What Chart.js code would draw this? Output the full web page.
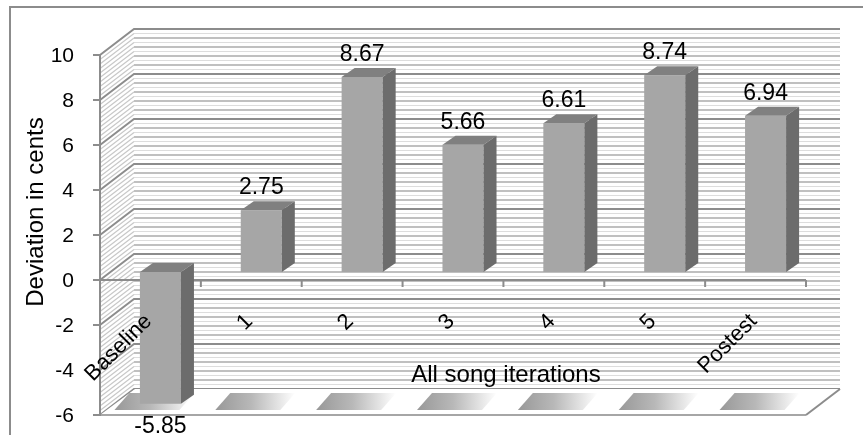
<!DOCTYPE html>
<html>
<head>
<meta charset="utf-8">
<script src="https://cdn.jsdelivr.net/npm/chart.js@4.4.1/dist/chart.umd.min.js"></script>
<style>
  html, body { margin: 0; padding: 0; background: #ffffff; }
</style>
</head>
<body>
<canvas id="chart" width="863" height="435"></canvas>
<script>
// data
const categories = ['Baseline', '1', '2', '3', '4', '5', 'Postest'];
const deviation = [-5.85, 2.75, 8.67, 5.66, 6.61, 8.74, 6.94];
const yTicks = [-6, -4, -2, 0, 2, 4, 6, 8, 10];
const yTitle = 'Deviation in cents';
const xTitle = 'All song iterations';

const FONT = "'Liberation Sans', Arial, sans-serif";

// fake 3D box: offsets relative to the plane the bars sit in
const FRONT = { dx: -10, dy: 8 };
const BACK = { dx: 24, dy: -18 };
const BAR_DEPTH = { dx: 13, dy: -9 };

const box3d = {
    id: 'box3d',
    beforeDraw(chart) {
        const ctx = chart.ctx;
        ctx.save();
        ctx.strokeStyle = '#8c8c8c';
        ctx.lineWidth = 2;
        ctx.beginPath();
        ctx.moveTo(10, chart.height);
        ctx.lineTo(10, 7);
        ctx.lineTo(chart.width, 7);
        ctx.stroke();
        ctx.restore();
    },
    beforeDatasetsDraw(chart) {
        const { ctx, chartArea: a, scales: { x, y } } = chart;
        const fl = a.left + FRONT.dx, fr = a.right + FRONT.dx;
        const bl = a.left + BACK.dx, br = a.right + BACK.dx;
        const yf = v => y.getPixelForValue(v) + FRONT.dy;
        const yb = v => y.getPixelForValue(v) + BACK.dy;
        const lo = y.min, hi = y.max;
        const steps = Math.round((hi - lo) / 0.2);

        ctx.save();
        // striped back wall + hatched side wall
        for (let k = 0; k <= steps; k++) {
            if (k % 10 === 0) continue;
            const v = lo + k * 0.2;
            ctx.strokeStyle = k % 2 === 0 ? '#c0c0c0' : '#dddddd';
            ctx.lineWidth = k % 2 === 0 ? 2 : 1;
            ctx.beginPath();
            ctx.moveTo(bl, yb(v));
            ctx.lineTo(br, yb(v));
            ctx.stroke();
            ctx.strokeStyle = '#c8c8c8';
            ctx.lineWidth = 1.2;
            ctx.beginPath();
            ctx.moveTo(fl, yf(v));
            ctx.lineTo(bl, yb(v));
            ctx.stroke();
        }
        // major gridlines
        ctx.strokeStyle = '#8c8c8c';
        ctx.lineWidth = 2;
        yTicks.forEach(v => {
            ctx.beginPath();
            ctx.moveTo(fl, yf(v));
            ctx.lineTo(bl, yb(v));
            ctx.lineTo(br, yb(v));
            ctx.stroke();
        });

        // floor
        ctx.fillStyle = '#ffffff';
        ctx.beginPath();
        ctx.moveTo(fl, yf(lo));
        ctx.lineTo(fr, yf(lo));
        ctx.lineTo(br, yb(lo));
        ctx.lineTo(bl + 1, yb(lo));
        ctx.closePath();
        ctx.fill();
        const fTop = yb(lo) + 4, fBot = yf(lo) - 5;
        categories.forEach((c, i) => {
            const cx = x.getPixelForValue(i);
            const g = ctx.createLinearGradient(cx - 46, 0, cx + 34, 0);
            g.addColorStop(0, '#989898');
            g.addColorStop(0.45, '#b8b8b8');
            g.addColorStop(1, '#ffffff');
            ctx.fillStyle = g;
            ctx.beginPath();
            ctx.moveTo(cx - 31, fTop);
            ctx.lineTo(cx + 34, fTop);
            ctx.lineTo(cx + 19, fBot);
            ctx.lineTo(cx - 46, fBot);
            ctx.closePath();
            ctx.fill();
        });
        ctx.strokeStyle = '#a6a6a6';
        ctx.beginPath();
        ctx.moveTo(fl, yf(lo));
        ctx.lineTo(fr, yf(lo));
        ctx.stroke();
        ctx.strokeStyle = '#8c8c8c';
        ctx.beginPath();
        ctx.moveTo(fr, yf(lo));
        ctx.lineTo(br, yb(lo));
        ctx.stroke();

        // front category axis at 0
        const catW = (a.right - a.left) / categories.length;
        ctx.beginPath();
        ctx.moveTo(fl, yf(0));
        ctx.lineTo(fr, yf(0));
        for (let k = 1; k <= categories.length; k++) {
            ctx.moveTo(fl + k * catW, yf(0));
            ctx.lineTo(fl + k * catW, yf(0) + 7);
        }
        ctx.stroke();

        // front value axis
        ctx.beginPath();
        ctx.moveTo(fl, yf(hi) - 1);
        ctx.lineTo(fl, yf(lo) + 1);
        yTicks.forEach(v => {
            ctx.moveTo(fl - 7, yf(v));
            ctx.lineTo(fl, yf(v));
        });
        ctx.stroke();
        ctx.restore();
    },
    afterDatasetsDraw(chart) {
        const { ctx, scales: { x } } = chart;
        const meta = chart.getDatasetMeta(0);
        ctx.save();
        meta.data.forEach((bar, i) => {
            const p = bar.getProps(['x', 'y', 'base', 'width'], true);
            const x0 = p.x - p.width / 2, x1 = p.x + p.width / 2;
            const top = Math.min(p.y, p.base), bot = Math.max(p.y, p.base);
            // top face
            ctx.fillStyle = '#808080';
            ctx.beginPath();
            ctx.moveTo(x0, top);
            ctx.lineTo(x1, top);
            ctx.lineTo(x1 + BAR_DEPTH.dx, top + BAR_DEPTH.dy);
            ctx.lineTo(x0 + BAR_DEPTH.dx, top + BAR_DEPTH.dy);
            ctx.closePath();
            ctx.fill();
            // side face
            ctx.fillStyle = '#6c6c6c';
            ctx.beginPath();
            ctx.moveTo(x1, top);
            ctx.lineTo(x1 + BAR_DEPTH.dx, top + BAR_DEPTH.dy);
            ctx.lineTo(x1 + BAR_DEPTH.dx, bot + BAR_DEPTH.dy);
            ctx.lineTo(x1, bot);
            ctx.closePath();
            ctx.fill();

            // value label
            const val = deviation[i];
            ctx.fillStyle = '#000000';
            ctx.font = '23px ' + FONT;
            ctx.textAlign = 'center';
            ctx.textBaseline = 'alphabetic';
            if (val >= 0) ctx.fillText(val.toFixed(2), p.x, top + BAR_DEPTH.dy - 7);
            else ctx.fillText(val.toFixed(2), p.x, bot + 29);
        });

        // slanted category labels
        ctx.font = '22px ' + FONT;
        ctx.textAlign = 'right';
        ctx.textBaseline = 'middle';
        categories.forEach((c, i) => {
            ctx.save();
            ctx.translate(x.getPixelForValue(i) - 12, 318);
            ctx.rotate(-Math.PI / 4);
            ctx.fillText(c, 0, 0);
            ctx.restore();
        });

        // axis titles
        ctx.font = '24px ' + FONT;
        ctx.textAlign = 'center';
        ctx.textBaseline = 'alphabetic';
        ctx.fillText(xTitle, 506, 382);
        ctx.save();
        ctx.translate(43, 212);
        ctx.rotate(-Math.PI / 2);
        ctx.fillText(yTitle, 0, 0);
        ctx.restore();
        ctx.restore();
    }
};

new Chart(document.getElementById('chart'), {
    type: 'bar',
    data: {
        labels: categories,
        datasets: [{
            data: deviation,
            backgroundColor: '#a6a6a6',
            borderWidth: 0,
            barPercentage: 0.407,
            categoryPercentage: 1
        }]
    },
    options: {
        responsive: false,
        animation: false,
        layout: { padding: { left: 0, right: 47, top: 47, bottom: 28 } },
        plugins: {
            legend: { display: false },
            tooltip: { enabled: false }
        },
        scales: {
            x: { display: false, offset: true },
            y: {
                min: -6,
                max: 10,
                afterFit(scale) {
                    scale.width = 110;
                    scale.paddingTop = 0;
                    scale.paddingBottom = 0;
                },
                afterBuildTicks(scale) { scale.ticks = yTicks.map(v => ({ value: v })); },
                grid: { display: false, drawTicks: false },
                border: { display: false },
                ticks: {
                    padding: 36,
                    labelOffset: 9,
                    color: '#000000',
                    font: { family: FONT, size: 21 }
                }
            }
        }
    },
    plugins: [box3d]
});
</script>
</body>
</html>
